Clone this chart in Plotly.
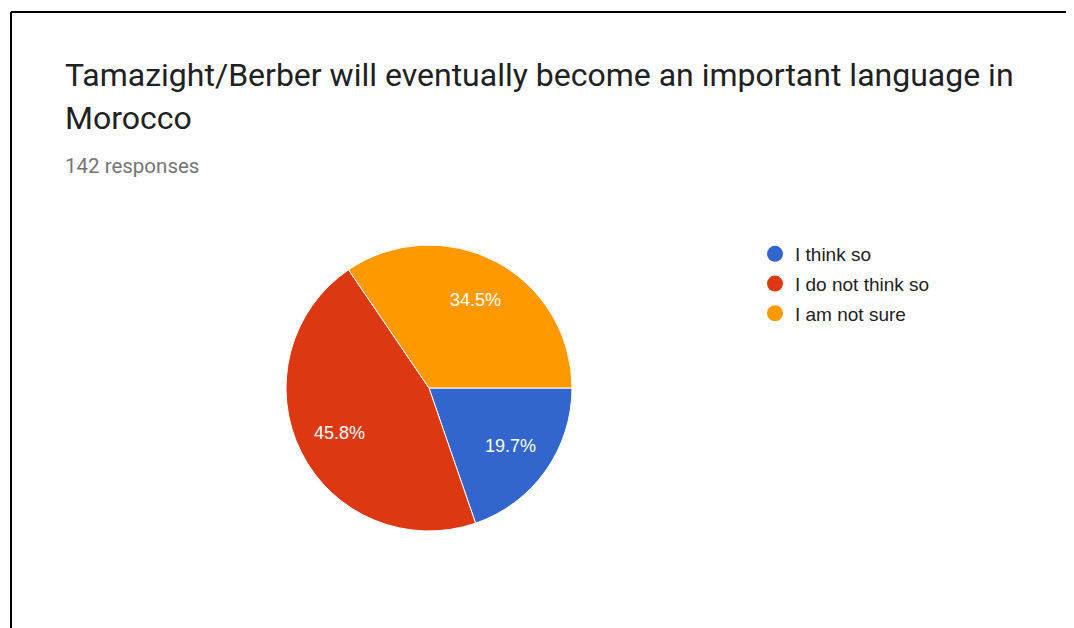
import math
import plotly.graph_objects as go

W, H = 1074, 628

labels = ["I think so", "I do not think so", "I am not sure"]
counts = [28, 65, 49]
colors = ["#3366CC", "#DC3912", "#FF9900"]
title_line1 = "Tamazight/Berber will eventually become an important language in"
title_line2 = "Morocco"
subtitle = "142 responses"

def px_x(v):
    return v / W

def px_y(v):
    return 1 - v / H

fig = go.Figure()

cx, cy, r = 421, 380, 143
fig.add_trace(go.Pie(
    labels=labels,
    values=counts,
    sort=False,
    direction="clockwise",
    rotation=90,
    marker=dict(colors=colors, line=dict(color="white", width=1)),
    textinfo="none",
    showlegend=False,
    domain=dict(x=[px_x(cx - r), px_x(cx + r)], y=[px_y(cy + r), px_y(cy - r)]),
    hoverinfo="label+percent",
))

for i, (lab, col) in enumerate(zip(labels, colors)):
    fig.add_trace(go.Scatter(
        x=[None], y=[None], mode="markers", name=lab,
        marker=dict(color=col, size=16, symbol="circle"),
        showlegend=True, legendgroup=f"g{i}",
    ))

# percentage labels placed along each slice's bisector (Google-Charts style)
total = sum(counts)
annotations = []
start = 0.0
for c in counts:
    frac = c / total
    mid = (start + frac / 2) * 2 * math.pi  # clockwise from 3 o'clock
    lx = cx + 0.70 * r * math.cos(mid)
    ly = cy + 0.70 * r * math.sin(mid)
    annotations.append(dict(
        text=f"{frac * 100:.1f}%", x=px_x(lx), y=px_y(ly), xref="paper", yref="paper",
        xanchor="center", yanchor="middle", showarrow=False,
        font=dict(family="Liberation Sans, Arial", size=18, color="white"),
    ))
    start += frac

annotations += [
    dict(text=title_line1, x=px_x(55), y=px_y(46), xref="paper", yref="paper",
         xanchor="left", yanchor="top", showarrow=False,
         font=dict(family="Roboto", size=32, color="#212121")),
    dict(text=title_line2, x=px_x(55), y=px_y(89), xref="paper", yref="paper",
         xanchor="left", yanchor="top", showarrow=False,
         font=dict(family="Roboto", size=32, color="#212121")),
    dict(text=subtitle, x=px_x(55), y=px_y(144), xref="paper", yref="paper",
         xanchor="left", yanchor="top", showarrow=False,
         font=dict(family="Roboto", size=20.5, color="#757575")),
]

fig.update_layout(
    width=W, height=H,
    margin=dict(l=0, r=0, t=0, b=0),
    paper_bgcolor="white",
    plot_bgcolor="white",
    xaxis=dict(visible=False),
    yaxis=dict(visible=False),
    legend=dict(
        x=px_x(747), y=px_y(227), xanchor="left", yanchor="top",
        font=dict(family="Liberation Sans, Arial", size=19, color="#222222"),
        bgcolor="rgba(0,0,0,0)",
        itemwidth=30,
        tracegroupgap=2,
    ),
    annotations=annotations,
    shapes=[
        dict(type="line", xref="paper", yref="paper", x0=px_x(3), x1=1, y0=px_y(4), y1=px_y(4),
             line=dict(color="black", width=2)),
        dict(type="line", xref="paper", yref="paper", x0=px_x(3), x1=px_x(3), y0=px_y(4), y1=0,
             line=dict(color="black", width=2)),
    ],
)

fig.write_html("out.html")
